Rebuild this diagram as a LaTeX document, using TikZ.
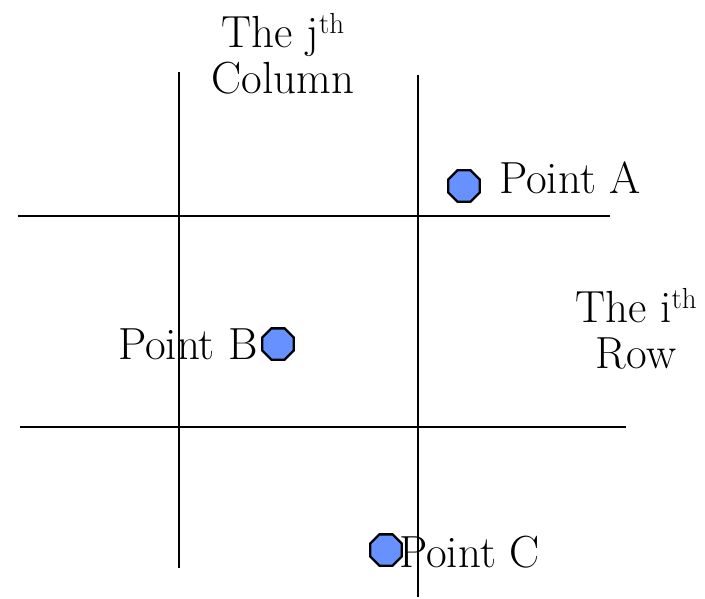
\documentclass[tikz,border=0pt]{standalone}
\usepackage{fontspec}
\usetikzlibrary{shapes.geometric,positioning}
\definecolor{dotblue}{RGB}{102,145,255}
\newcommand{\supth}{\raisebox{0.3em}{\fontsize{29}{30}\selectfont th}}

\begin{document}
\begin{tikzpicture}[
  x=1pt,y=-1pt,
  gridline/.style={line width=2.8pt,black},
  dot/.style={regular polygon,regular polygon sides=8,draw,line width=2.4pt,fill=dotblue,minimum size=34pt,inner sep=0pt},
  lbl/.style={font=\fontsize{45}{46}\selectfont,inner sep=0pt,align=center}
]
\useasboundingbox (0,0) rectangle (705,598);

% grid lines
\coordinate (colLtop) at (179,72);
\coordinate (colLbot) at (179,568);
\coordinate (colRtop) at (418,75);
\coordinate (colRbot) at (418,597);
\coordinate (rowTl) at (18,216);
\coordinate (rowTr) at (610,216);
\coordinate (rowBl) at (20,427);
\coordinate (rowBr) at (626,427);
\draw[gridline] (colLtop) -- (colLbot);
\draw[gridline] (colRtop) -- (colRbot);
\draw[gridline] (rowTl) -- (rowTr);
\draw[gridline] (rowBl) -- (rowBr);

% headings
\node[lbl] (colname) at (283,54) {The j\supth\\Column};
\node[lbl] (rowname) at (636,329) {The i\supth\\Row};

% points
\node[dot] (ptA) at (464,186) {};
\node[lbl,anchor=west] (lblA) at (499,178) {Point A};
\node[dot] (ptB) at (278,344) {};
\node[lbl,anchor=east] (lblB) at ([xshift=-3pt]ptB.west) {Point B};
\node[dot] (ptC) at (386,550) {};
\node[lbl,anchor=west] (lblC) at (399,552) {Point C};
\end{tikzpicture}
\end{document}
